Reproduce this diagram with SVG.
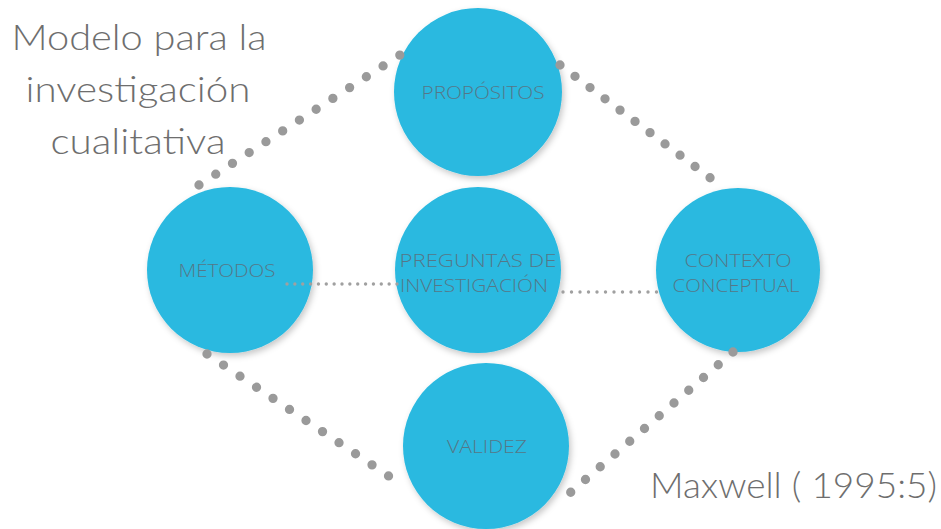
<svg xmlns="http://www.w3.org/2000/svg" width="941" height="529" viewBox="0 0 941 529">
<style>
.node{fill:#29b9e0;filter:url(#sh)}
.lbl{font-family:"Open Sans","Lato","Liberation Sans",sans-serif;font-weight:300;font-size:18px;fill:#557788;text-anchor:middle}
.title{font-family:"Lato","Open Sans","Liberation Sans",sans-serif;font-weight:300;font-size:35px;fill:#6e6e6e;text-anchor:middle}
.big{stroke:#9a9a9a;stroke-width:9.3;stroke-linecap:round;fill:none}
.small{stroke:#a0a0a0;stroke-width:3.4;stroke-linecap:round;fill:none}
</style>
<defs>
<filter id="sh" x="-20%" y="-20%" width="140%" height="140%">
<feDropShadow dx="2" dy="3" stdDeviation="3" flood-color="#000" flood-opacity="0.22"/>
</filter>
</defs>
<rect width="941" height="529" fill="#ffffff"/>
<g id="title">
<text class="title" x="139" y="50" textLength="255" lengthAdjust="spacingAndGlyphs">Modelo para la</text>
<text class="title" x="138" y="102" textLength="225" lengthAdjust="spacingAndGlyphs">investigación</text>
<text class="title" x="138" y="154" textLength="175" lengthAdjust="spacingAndGlyphs">cualitativa</text>
</g>
<g id="node-propositos">
<circle class="node" cx="478" cy="92" r="84"/>
<text class="lbl" x="483" y="99" textLength="123" lengthAdjust="spacingAndGlyphs">PROPÓSITOS</text>
</g>
<g id="node-metodos">
<circle class="node" cx="230" cy="270" r="83"/>
<text class="lbl" x="227" y="277" textLength="97" lengthAdjust="spacingAndGlyphs">MÉTODOS</text>
</g>
<g id="node-preguntas">
<circle class="node" cx="478" cy="270" r="83"/>
<text class="lbl" x="478" y="267" textLength="157" lengthAdjust="spacingAndGlyphs">PREGUNTAS DE</text>
<text class="lbl" x="474" y="292" textLength="148" lengthAdjust="spacingAndGlyphs">INVESTIGACIÓN</text>
</g>
<g id="node-contexto">
<circle class="node" cx="738" cy="270" r="82"/>
<text class="lbl" x="738" y="267" textLength="107" lengthAdjust="spacingAndGlyphs">CONTEXTO</text>
<text class="lbl" x="736" y="292" textLength="127" lengthAdjust="spacingAndGlyphs">CONCEPTUAL</text>
</g>
<g id="node-validez">
<circle class="node" cx="486" cy="446" r="83"/>
<text class="lbl" x="487" y="453" textLength="80" lengthAdjust="spacingAndGlyphs">VALIDEZ</text>
</g>
<g id="connectors">
<line class="big" x1="199" y1="185" x2="400" y2="55" stroke-dasharray="0 19.93"/>
<line class="big" x1="560" y1="65" x2="725" y2="189" stroke-dasharray="0 18.77"/>
<line class="big" x1="207" y1="354" x2="405" y2="487" stroke-dasharray="0 19.88"/>
<line class="big" x1="733" y1="352" x2="556" y2="505" stroke-dasharray="0 19.5"/>
<line class="small" x1="287" y1="284" x2="397" y2="284" stroke-dasharray="0 7.857"/>
<line class="small" x1="563" y1="292" x2="665" y2="292" stroke-dasharray="0 8.5"/>
</g>
<g id="citation">
<text x="937" y="498" font-family="Lato,'Open Sans','Liberation Sans',sans-serif" font-weight="300" font-size="35" fill="#6e6e6e" text-anchor="end" textLength="287" lengthAdjust="spacingAndGlyphs">Maxwell ( 1995:5)</text>
</g>
</svg>
